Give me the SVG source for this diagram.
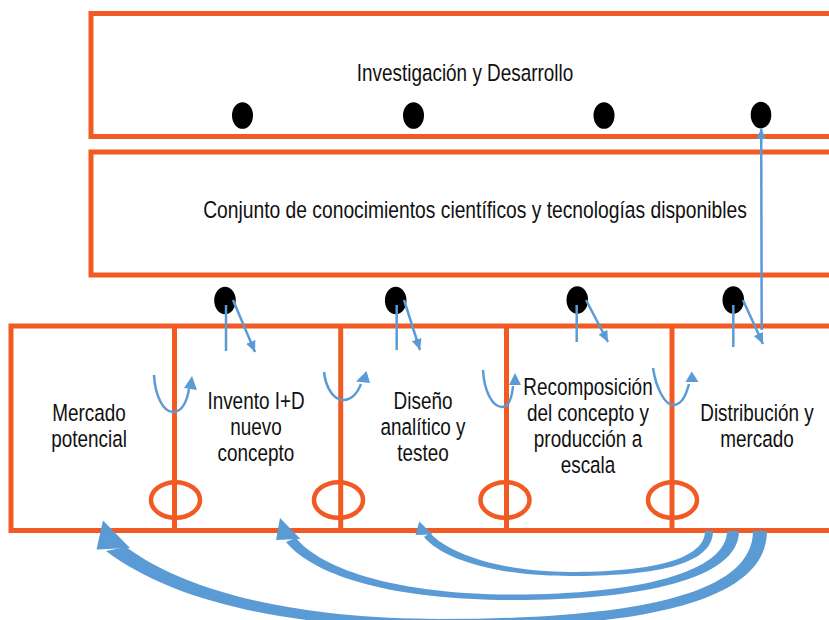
<svg xmlns="http://www.w3.org/2000/svg" width="829" height="620" viewBox="0 0 829 620">
<defs>
<style>
.box{fill:none;stroke:#f15a22;stroke-width:5}
.div{stroke:#f15a22;stroke-width:5}
.ring{fill:none;stroke:#f15a22;stroke-width:4.5}
.dot{fill:#000}
.lbl{font-family:"Liberation Sans Narrow","Liberation Sans",Arial,sans-serif;font-size:23.5px;fill:#111;text-anchor:middle}
.conn{fill:none;stroke:#5b9bd5;stroke-width:2.5}
.bf{fill:#5b9bd5;stroke:none}
</style>
<marker id="ah" markerWidth="11" markerHeight="10" refX="11" refY="5" orient="auto" markerUnits="userSpaceOnUse"><path d="M0,0 L11,5 L0,10 z" fill="#5b9bd5"/></marker>
</defs>
<rect width="829" height="620" fill="#fff"/>

<g id="rd">
<rect class="box" x="91" y="13.5" width="800" height="123"/>
<text class="lbl" transform="translate(465,81) scale(0.805,1)">Investigación y Desarrollo</text>
<ellipse class="dot" cx="242.5" cy="115.5" rx="10.5" ry="13.3"/>
<ellipse class="dot" cx="413.5" cy="115.5" rx="10.5" ry="13.3"/>
<ellipse class="dot" cx="604" cy="115.5" rx="10.5" ry="13.3"/>
<ellipse class="dot" cx="761" cy="115" rx="10.3" ry="13.3"/>
</g>

<g id="knowledge">
<rect class="box" x="91" y="152" width="800" height="123"/>
<text class="lbl" transform="translate(475,218) scale(0.82,1)">Conjunto de conocimientos científicos y tecnologías disponibles</text>
</g>

<g id="dots">
<ellipse class="dot" cx="225" cy="300.5" rx="10.8" ry="13.8"/>
<ellipse class="dot" cx="395.7" cy="300.5" rx="10.8" ry="13.8"/>
<ellipse class="dot" cx="577.3" cy="300" rx="10.8" ry="13.8"/>
<ellipse class="dot" cx="733.3" cy="300" rx="10.8" ry="13.8"/>
</g>

<g id="stages-frame">
<rect class="box" x="11" y="326" width="900" height="204.5"/>
<line class="div" x1="174.5" y1="326" x2="174.5" y2="530.5"/>
<line class="div" x1="340.7" y1="326" x2="340.7" y2="530.5"/>
<line class="div" x1="506.5" y1="326" x2="506.5" y2="530.5"/>
<line class="div" x1="672" y1="326" x2="672" y2="530.5"/>
<ellipse class="ring" cx="175.5" cy="500" rx="24.5" ry="17.8"/>
<ellipse class="ring" cx="338.5" cy="500" rx="24.5" ry="17.8"/>
<ellipse class="ring" cx="505" cy="500" rx="24.5" ry="17.8"/>
<ellipse class="ring" cx="672.5" cy="500" rx="24.5" ry="17.8"/>
</g>

<g id="market">
<text class="lbl" transform="translate(89,421) scale(0.805,1)">Mercado</text>
<text class="lbl" transform="translate(89,447) scale(0.805,1)">potencial</text>
</g>
<g id="invention">
<text class="lbl" transform="translate(256,409) scale(0.805,1)">Invento I+D</text>
<text class="lbl" transform="translate(256,435) scale(0.805,1)">nuevo</text>
<text class="lbl" transform="translate(256,461) scale(0.805,1)">concepto</text>
</g>
<g id="design">
<text class="lbl" transform="translate(423,409) scale(0.805,1)">Diseño</text>
<text class="lbl" transform="translate(423,435) scale(0.805,1)">analítico y</text>
<text class="lbl" transform="translate(423,461) scale(0.805,1)">testeo</text>
</g>
<g id="recomposition">
<text class="lbl" transform="translate(588,395) scale(0.805,1)">Recomposición</text>
<text class="lbl" transform="translate(588,421) scale(0.805,1)">del concepto y</text>
<text class="lbl" transform="translate(588,447) scale(0.805,1)">producción a</text>
<text class="lbl" transform="translate(588,473) scale(0.805,1)">escala</text>
</g>
<g id="distribution">
<text class="lbl" transform="translate(757,421) scale(0.805,1)">Distribución y</text>
<text class="lbl" transform="translate(757,447) scale(0.805,1)">mercado</text>
</g>

<g id="connectors">
<line class="conn" x1="226" y1="305" x2="226" y2="351"/>
<line class="conn" x1="233" y1="300" x2="255" y2="352" marker-end="url(#ah)"/>
<line class="conn" x1="396.7" y1="305" x2="396.7" y2="350"/>
<line class="conn" x1="404" y1="300" x2="420" y2="350" marker-end="url(#ah)"/>
<line class="conn" x1="576.7" y1="305" x2="576.7" y2="342"/>
<line class="conn" x1="586" y1="300" x2="608" y2="342" marker-end="url(#ah)"/>
<line class="conn" x1="733.3" y1="305" x2="733.3" y2="347"/>
<line class="conn" x1="743" y1="300" x2="763" y2="344" marker-end="url(#ah)"/>
<line class="conn" x1="761.7" y1="330" x2="761.2" y2="128.5" marker-end="url(#ah)"/>

<path class="conn" d="M154,375 C155,395 163,412 173,412 C182,412 187,401 189,389"/>
<polygon class="bf" points="192,376 184,388 197,390"/>
<path class="conn" d="M324,372 C326,390 335,400 343,400 C352,400 358,392 361,384"/>
<polygon class="bf" points="366.5,371 356,381.5 370,383"/>
<path class="conn" d="M483,370 C484,390 492,407 502,407 C509,407 512,397 513,386"/>
<polygon class="bf" points="515,373 509,385 521,385"/>
<path class="conn" d="M653,368 C656,388 665,405 673,405 C682,405 686,395 689,384"/>
<polygon class="bf" points="691.7,371.5 685.5,382 698.5,382"/>

<path class="bf" d="M713,531 C713,566 652,576 570,576 C498,576 443,560 424,537 L430,533 C448,553 500,572 570,572 C645,572 705,561 705,531 Z"/>
<polygon class="bf" points="419.3,521.5 415.5,535 432.5,534.5"/>
<path class="bf" d="M739,531 C739,579 642,600 513,600 C398,600 316,578 286,542 L296,538 C323,571 402,594.5 513,594.5 C638,594.5 727,572 727,531 Z"/>
<polygon class="bf" points="280,518 276,540 300.5,539"/>
<path class="bf" d="M767,531 C767,605 632,628 440,628 C296,628 176,604 106,551 L126,547 C190,594 302,619 440,619 C626,619 753,597 753,531 Z"/>
<polygon class="bf" points="103,520.5 96.5,549.5 130,548"/>
</g>
</svg>
